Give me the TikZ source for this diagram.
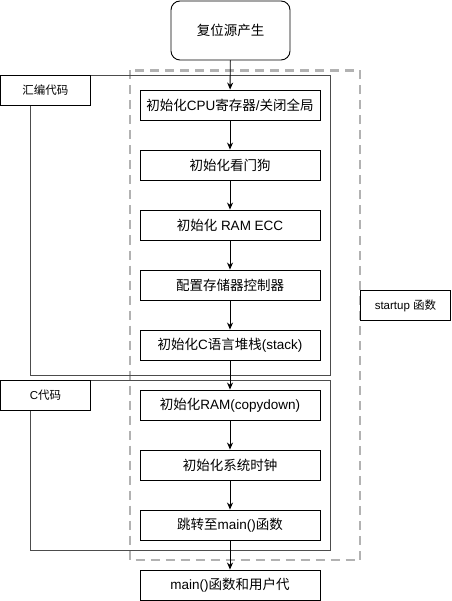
\documentclass[tikz,border=0pt]{standalone}
\usepackage{fontspec}
\setmainfont{Liberation Sans}
\newfontfamily\cjk{Noto Sans CJK SC}
\usetikzlibrary{arrows.meta}
\begin{document}
\begin{tikzpicture}[x=1pt,y=-1pt,
  every node/.style={font=\fontsize{13.5}{16}\selectfont},
  stepbox/.style={draw=black,line width=0.9pt,fill=white,minimum width=180pt,minimum height=30pt,inner sep=0pt},
  labbox/.style={draw=black,line width=0.9pt,fill=white,minimum width=90pt,minimum height=30pt,inner sep=0pt,font=\fontsize{11.5}{14}\selectfont},
  grp/.style={draw=black!70,line width=0.9pt},
  conn/.style={draw=black,line width=0.9pt,-{Stealth[length=7pt,width=6pt]}}]
\useasboundingbox (0,0) rectangle (451,601);
% dashed startup region
\draw[draw=black!30,line width=2.6pt,dash pattern=on 9pt off 6pt] (130,70.5) rectangle (360,560);
% group rectangles
\draw[grp] (30,75) rectangle (330,375);
\draw[grp] (30,380) rectangle (330,550);
\node[labbox,anchor=north west] (asm) at (0,75) {\cjk 汇编代码};
\node[labbox,anchor=north west] (ccode) at (0,380) {C{\cjk 代码}};
\node[labbox,anchor=north west] (startup) at (360,290) {startup {\cjk 函数}};
% nodes
\node[draw=black,line width=0.9pt,rounded corners=9pt,fill=white,minimum width=119pt,minimum height=59pt] (reset) at (230.5,30.5) {\cjk 复位源产生};
\node[stepbox] (s1) at (230,105) {{\cjk 初始化}CPU{\cjk 寄存器}/{\cjk 关闭全局}};
\node[stepbox] (s2) at (230,165) {\cjk 初始化看门狗};
\node[stepbox] (s3) at (230,225) {{\cjk 初始化} RAM ECC};
\node[stepbox] (s4) at (230,285) {\cjk 配置存储器控制器};
\node[stepbox] (s5) at (230,345) {{\cjk 初始化}C{\cjk 语言堆栈}(stack)};
\node[stepbox] (s6) at (230,405) {{\cjk 初始化}RAM(copydown)};
\node[stepbox] (s7) at (230,465) {\cjk 初始化系统时钟};
\node[stepbox] (s8) at (230,525) {{\cjk 跳转至}main(){\cjk 函数}};
\node[stepbox] (s9) at (230,585) {main(){\cjk 函数和用户代}};
% connectors
\draw[conn] (reset) -- (s1);
\draw[conn] (s1) -- (s2);
\draw[conn] (s2) -- (s3);
\draw[conn] (s3) -- (s4);
\draw[conn] (s4) -- (s5);
\draw[conn] (s5) -- (s6);
\draw[conn] (s6) -- (s7);
\draw[conn] (s7) -- (s8);
\draw[conn] (s8) -- (s9);
\end{tikzpicture}
\end{document}
